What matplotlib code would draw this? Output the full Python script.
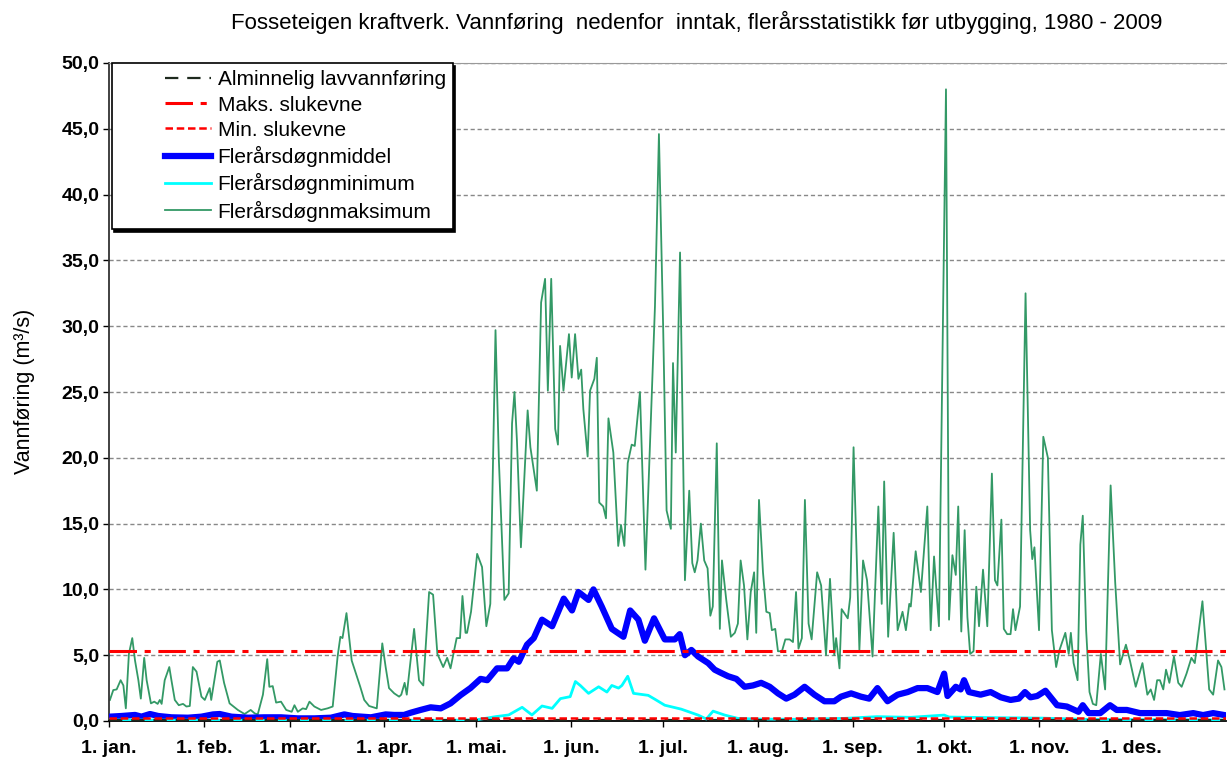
import matplotlib
matplotlib.use("Agg")
import matplotlib.pyplot as plt
from matplotlib.lines import Line2D
from matplotlib.legend_handler import HandlerTuple
from matplotlib.ticker import FuncFormatter

plt.rcParams['font.family'] = ['Liberation Sans', 'DejaVu Sans']

# Data (day of year, m3/s)
month_days = [0, 31, 59, 90, 120, 151, 181, 212, 243, 273, 304, 334]
month_labels = ['1. jan.', '1. feb.', '1. mar.', '1. apr.', '1. mai.', '1. jun.',
                '1. jul.', '1. aug.', '1. sep.', '1. okt.', '1. nov.', '1. des.']

alminnelig_lav = 0.1
maks_slukevne = 5.3
min_slukevne = 0.25

max_days = [0.3, 1.4, 2.5, 3.8, 4.7, 5.5, 6.5, 7.6, 8.5, 9.6, 10.4, 11.5, 12.3, 13.7, 14.8, 15.9, 16.6, 17.2, 18.2, 19.7,
            20.4, 21.5, 22.8, 24.2, 25.3, 26.4, 27.4, 28.6, 30.2, 31.3, 32.9, 33.4, 35.4, 36.2, 37.6, 39.4, 42.1, 44.3, 46.3, 47.6,
            48.6, 50.3, 51.7, 52.4, 53.5, 54.6, 56.2, 57.9, 59.7, 60.6, 61.7, 63.3, 64.4, 65.5, 67.1, 69.3, 71.4, 73.1, 74.7, 75.6,
            76.3, 77.6, 79.3, 80.7, 82.1, 83.4, 85.0, 87.5, 89.3, 90.4, 91.5, 93.2,
            94.8, 95.5, 96.6, 97.3, 99.7, 101.3, 102.7, 104.6, 105.9, 107.3, 109.2, 110.5, 111.6, 113.6, 114.7, 115.5, 116.5, 117.0,
            118.3, 120.3, 121.9, 123.3, 124.6, 126.3, 127.4, 129.2, 130.6, 131.7, 132.5, 133.3, 134.6, 136.8, 137.7,
            139.8, 141.2, 142.5, 143.4, 144.5, 145.8, 146.7, 147.4, 148.5, 150.3, 151.2, 152.3, 153.4, 154.3, 155.0, 156.4, 157.2,
            158.6, 159.4, 160.2, 161.5, 162.4, 163.2, 164.8, 166.4, 167.3, 168.4, 169.5, 170.8, 171.8, 173.5, 175.3, 178.4, 179.7,
            181.1, 182.2, 183.6, 184.3, 185.2, 186.6,
            188.2, 189.6, 190.6, 191.4, 192.3, 193.4, 194.5, 195.6, 196.5, 197.3, 198.6, 199.6, 200.3, 201.7, 203.2, 204.5, 205.5,
            206.4, 207.5, 208.6, 209.7, 210.8, 211.5, 212.4, 213.7, 214.8, 215.9, 216.6, 217.7, 218.6, 219.9, 221.0, 222.4, 223.5,
            224.5, 225.3, 226.4, 227.4, 228.6, 229.6, 231.4, 232.7, 234.3, 235.6, 237.0, 237.6, 238.7, 239.4, 241.4, 242.2, 243.3,
            245.2, 246.4, 247.7, 249.5, 251.4, 252.5, 253.3, 254.6, 256.4, 257.7, 259.3, 260.4, 261.5, 262.0, 263.6, 265.3, 267.4,
            268.5, 269.6, 271.2,
            273.5, 274.5, 275.6, 276.7, 277.5, 278.5, 279.6, 280.5, 281.4, 282.5, 283.4, 284.3, 285.6, 287.0, 288.5, 289.5, 290.3,
            291.6, 292.4, 293.5, 294.6, 295.4, 296.2, 297.7, 299.5, 301.0, 301.7, 302.4, 303.9, 305.3, 306.8,
            308.1, 309.5, 310.6, 312.5, 313.6, 314.3, 315.2, 316.5, 317.4, 318.2, 319.3, 320.4, 321.5, 322.6, 324.1, 325.5, 327.3,
            328.8, 330.4, 332.3, 333.6, 335.5, 337.7, 339.3, 340.4, 341.5, 342.5, 343.4, 344.5, 345.4, 346.5, 348.0, 349.4, 350.5,
            352.1, 353.7, 354.8, 357.3, 359.5, 360.8, 362.4, 363.5, 364.5]
max_vals = [1.6, 2.35, 2.4, 3.1, 2.7, 0.96, 5.1, 6.3, 4.6, 3.1, 1.7, 4.8, 3.1, 1.34, 1.47, 1.3, 1.6, 1.3, 3.1, 4.1,
            3.1, 1.6, 1.2, 1.3, 1.1, 1.14, 4.1, 3.75, 1.85, 1.6, 2.5, 1.6, 4.5, 4.6, 2.9, 1.34, 0.84, 0.53, 0.84, 0.58,
            0.5, 2.0, 4.7, 2.6, 2.65, 1.4, 1.47, 0.84, 0.7, 1.2, 0.7, 0.96, 0.9, 1.47, 1.1, 0.84, 0.96, 1.1, 4.9, 6.4,
            6.3, 8.2, 4.6, 3.6, 2.6, 1.6, 1.14, 0.96, 5.9, 4.1, 2.5, 2.1,
            1.85, 2.0, 2.9, 2.0, 7.0, 3.1, 2.7, 9.8, 9.6, 5.1, 4.1, 4.8, 4.0, 6.3, 6.3, 9.5, 6.7, 6.7,
            8.3, 12.7, 11.7, 7.2, 8.9, 29.7, 19.8, 9.2, 9.7, 22.6, 25.0, 21.3, 13.2, 23.6, 20.8,
            17.5, 31.8, 33.6, 25.1, 33.6, 22.2, 21.0, 28.5, 25.1, 29.4, 26.1, 29.4, 26.0, 26.7, 23.7, 20.1, 25.1,
            26.0, 27.6, 16.6, 16.3, 15.4, 23.0, 20.4, 13.3, 14.9, 13.3, 19.6, 21.0, 20.9, 25.0, 11.5, 31.5, 44.6,
            29.7, 16.0, 14.6, 27.2, 20.4, 35.6,
            10.7, 17.5, 12.0, 11.3, 12.2, 15.0, 12.2, 11.6, 8.0, 8.7, 21.1, 7.0, 12.2, 9.2, 6.4, 6.7, 7.4,
            12.2, 10.3, 6.2, 9.8, 11.3, 6.7, 16.8, 11.3, 8.3, 8.2, 6.9, 7.0, 5.3, 5.3, 6.2, 6.2, 6.0,
            9.8, 5.5, 6.3, 16.8, 7.4, 6.2, 11.3, 10.3, 5.0, 10.8, 5.0, 6.3, 4.0, 8.5, 7.8, 9.4, 20.8,
            5.4, 12.2, 10.7, 4.9, 16.3, 8.9, 18.2, 6.4, 14.3, 6.9, 8.3, 6.9, 8.9, 8.7, 12.9, 9.8, 16.3,
            6.9, 12.5, 7.2,
            48.0, 7.7, 12.6, 11.1, 16.3, 6.8, 14.5, 7.9, 5.1, 5.3, 10.2, 7.2, 11.5, 7.2, 18.8, 10.7, 10.3,
            15.3, 7.0, 6.6, 6.6, 8.5, 6.9, 8.7, 32.5, 14.5, 12.3, 13.2, 6.9, 21.6, 20.0,
            6.9, 4.1, 5.4, 6.7, 5.1, 6.7, 4.4, 3.1, 13.4, 15.6, 6.9, 2.2, 1.3, 1.2, 5.1, 2.4, 17.9,
            10.5, 4.3, 5.8, 4.6, 2.6, 4.4, 2.0, 2.4, 1.6, 3.1, 3.1, 2.4, 3.9, 2.9, 4.9, 2.9, 2.6,
            3.6, 4.8, 4.4, 9.1, 2.4, 2.0, 4.6, 4.1, 2.4]

mean_days = [0.3, 4.1, 8.5, 10.6, 13.4, 16.1, 20.4, 25.8, 30.2, 34.0, 36.2, 40.0, 45.4, 50.8, 56.2, 61.7, 67.1, 72.5,
             76.9, 79.6, 85.6, 90.4, 93.2, 96.4, 98.6, 101.8, 105.1, 108.4, 111.6, 114.9, 118.1, 121.4, 123.6, 126.8,
             130.1, 132.2, 133.9, 136.6, 138.8, 141.5, 144.8, 148.6, 151.3, 153.4, 156.7, 158.3, 161.0, 164.3, 168.1,
             170.3, 173.0, 175.1, 178.1, 181.6, 184.9, 186.5, 188.2, 190.3, 192.5, 195.8, 197.9, 199.6, 202.3, 205.0,
             207.7, 210.4, 213.1, 215.9, 218.6, 221.3, 224.0, 227.3, 230.5, 233.8, 237.0, 239.2, 242.5, 245.7, 248.4,
             251.1, 254.4, 257.7, 261.0, 264.2, 267.4, 270.7, 272.9, 274.0, 276.7, 278.3, 279.4, 281.0, 284.8, 288.1,
             291.4, 294.6, 297.3, 299.3, 301.1, 303.3, 306.0, 309.8, 313.0, 316.8, 318.2, 320.1, 323.9, 327.1, 329.3,
             332.6, 336.9, 341.2, 345.6, 349.9, 354.3, 357.5, 360.8, 364.5]
mean_vals = [0.33, 0.38, 0.46, 0.33, 0.53, 0.38, 0.28, 0.25, 0.33, 0.5, 0.53, 0.33, 0.25, 0.28, 0.28, 0.2, 0.2, 0.25,
             0.5, 0.38, 0.28, 0.5, 0.46, 0.46, 0.63, 0.84, 1.04, 0.96, 1.34, 1.97, 2.5, 3.2, 3.1, 4.0,
             4.0, 4.76, 4.5, 5.8, 6.3, 7.7, 7.2, 9.3, 8.4, 9.8, 9.2, 10.0, 8.7, 7.0, 6.4,
             8.4, 7.7, 6.1, 7.8, 6.2, 6.2, 6.6, 5.0, 5.4, 4.9, 4.4, 3.9, 3.7, 3.4, 3.2,
             2.6, 2.7, 2.9, 2.6, 2.1, 1.7, 2.0, 2.6, 2.0, 1.5, 1.5, 1.85, 2.1, 1.85, 1.7,
             2.5, 1.5, 2.0, 2.2, 2.5, 2.5, 2.2, 3.6, 1.9, 2.6, 2.4, 3.1, 2.2, 2.0, 2.2,
             1.8, 1.6, 1.7, 2.2, 1.8, 1.9, 2.3, 1.2, 1.1, 0.7, 1.2, 0.6, 0.6, 1.2, 0.84,
             0.84, 0.6, 0.6, 0.6, 0.45, 0.6, 0.45, 0.6, 0.45]

min_days = [0, 30, 60, 90, 110, 119.8, 126.3, 130.6, 135.0, 138.2, 141.5, 144.8, 147.5, 150.7, 152.4, 154.0, 156.7,
            160.0, 162.7, 164.3, 166.5, 167.6, 169.5, 171.4, 176.2, 178.4, 181.6, 187.0, 192.5, 195.2, 197.4, 201.2,
            205.5, 211.0, 224.0, 240.3, 251.0, 262.0, 272.9, 274.5, 290, 305, 320, 340, 364.5]
min_vals = [0.08, 0.06, 0.05, 0.06, 0.05, 0.08, 0.33, 0.46, 1.04, 0.46, 1.14, 0.96, 1.7, 1.85, 3.0, 2.7, 2.1,
            2.6, 2.2, 2.7, 2.5, 2.7, 3.4, 2.1, 1.95, 1.65, 1.2, 0.9, 0.45, 0.15, 0.75, 0.45,
            0.2, 0.15, 0.13, 0.2, 0.33, 0.28, 0.45, 0.3, 0.25, 0.22, 0.12, 0.1, 0.08]

fig = plt.figure(figsize=(12.28, 7.67), dpi=100)
ax = fig.add_axes([109 / 1228, 46 / 767, 1117 / 1228, 658 / 767])

green = '#339966'
l_max, = ax.plot(max_days, max_vals, color=green, lw=1.3, zorder=2)
l_mean, = ax.plot(mean_days, mean_vals, color='#0000ff', lw=4.5, zorder=3, solid_joinstyle='round')
l_min, = ax.plot(min_days, min_vals, color='#00ffff', lw=2.0, zorder=4)
l_alm = ax.axhline(alminnelig_lav, color='#1e2a1e', lw=1.6, dashes=(6, 4), zorder=5)
l_maks = ax.axhline(maks_slukevne, color='#ff0000', lw=2.2, dashes=(9, 2.5, 2, 2.5), zorder=5)
l_mins = ax.axhline(min_slukevne, color='#ff0000', lw=1.8, dashes=(3, 1.5), zorder=5)

ax.set_xlim(0, 365)
ax.set_ylim(0, 50)
ax.set_yticks(range(0, 51, 5))
ax.yaxis.set_major_formatter(FuncFormatter(lambda v, p: f'{v:.1f}'.replace('.', ',')))
ax.set_xticks(month_days)
ax.set_xticklabels(month_labels)
ax.grid(axis='y', color='#888888', linestyle=(0, (3, 2)), lw=1.0, zorder=1)
ax.set_axisbelow(True)

for lab in ax.get_xticklabels() + ax.get_yticklabels():
    lab.set_fontweight('bold')
ax.tick_params(axis='x', labelsize=14, length=4, width=1, pad=10, direction='out')
ax.tick_params(axis='y', labelsize=14, length=4, width=1, pad=3, direction='out')

ax.spines['right'].set_visible(False)
ax.spines['top'].set_color('#999999')
ax.spines['left'].set_color('#333333')
ax.spines['left'].set_linewidth(1.3)
ax.spines['bottom'].set_linewidth(1.3)

fig.text(25 / 1228, 0.49, 'Vannføring (m³/s)', rotation=90, ha='center', va='center', fontsize=15.5)
fig.text(0.567, 0.971,
         'Fosseteigen kraftverk. Vannføring  nedenfor  inntak, flerårsstatistikk før utbygging, 1980 - 2009',
         ha='center', va='center', fontsize=16)

blank = Line2D([], [], color='none')
handles = [(blank, l_alm), (blank, l_maks), (blank, l_mins), (blank, l_mean), (blank, l_min), (blank, l_max)]
labels = ['Alminnelig lavvannføring', 'Maks. slukevne', 'Min. slukevne',
          'Flerårsdøgnmiddel', 'Flerårsdøgnminimum', 'Flerårsdøgnmaksimum']
leg = ax.legend(handles, labels, loc='upper left', bbox_to_anchor=(0.003, 1.0), fontsize=15,
                handler_map={tuple: HandlerTuple(ndivide=2, pad=0)}, handlelength=4.4,
                handletextpad=0.3, labelspacing=0.3, borderpad=0.35, borderaxespad=0.0,
                fancybox=False, shadow={'ox': 1.5, 'oy': -2.5, 'color': 'black', 'alpha': 1},
                framealpha=1, edgecolor='black')
leg.get_frame().set_linewidth(1.2)
leg.set_zorder(10)

fig.savefig('out.png', dpi=100)
